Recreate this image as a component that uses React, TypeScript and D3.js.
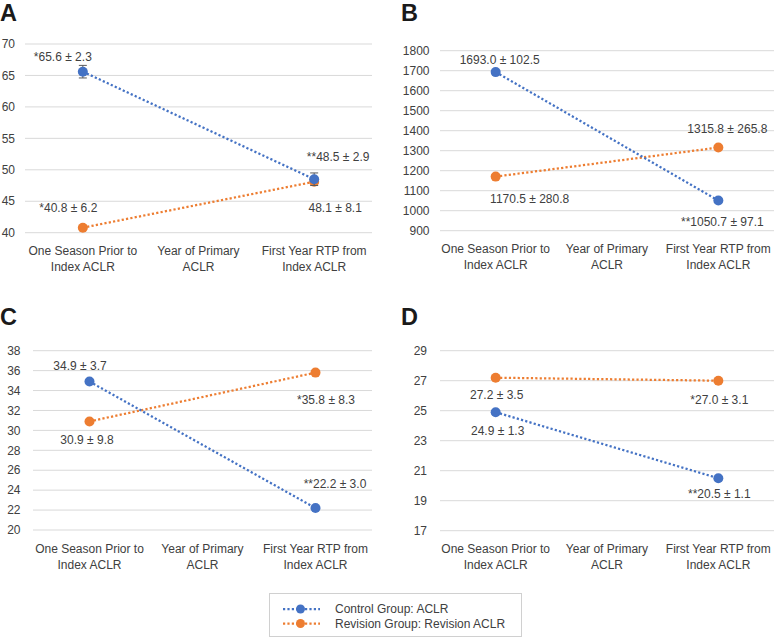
import React from "react";
import * as d3 from "d3";

// ---------- data ----------
const categoryLines: string[][] = [
  ["One Season Prior to", "Index ACLR"],
  ["Year of Primary", "ACLR"],
  ["First Year RTP from", "Index ACLR"],
];

const seriesNames = ["Control Group: ACLR", "Revision Group: Revision ACLR"];

// values per panel [first, middle (none), last]
const controlA = [65.6, null, 48.5];
const revisionA = [40.8, null, 48.1];
const controlB = [1693.0, null, 1050.7];
const revisionB = [1170.5, null, 1315.8];
const controlC = [34.9, null, 22.2];
const revisionC = [30.9, null, 35.8];
const controlD = [24.9, null, 20.5];
const revisionD = [27.2, null, 27.0];

// visible error bars (panel A control only, estimated)
const controlErrA = [1.0, null, 1.0];

const controlLabelsA = ["*65.6 ± 2.3", "", "**48.5 ± 2.9"];
const revisionLabelsA = ["*40.8 ± 6.2", "", "48.1 ± 8.1"];
const controlLabelsB = ["1693.0 ± 102.5", "", "**1050.7 ± 97.1"];
const revisionLabelsB = ["1170.5 ± 280.8", "", "1315.8 ± 265.8"];
const controlLabelsC = ["34.9 ± 3.7", "", "**22.2 ± 3.0"];
const revisionLabelsC = ["30.9 ± 9.8", "", "*35.8 ± 8.3"];
const controlLabelsD = ["24.9 ± 1.3", "", "**20.5 ± 1.1"];
const revisionLabelsD = ["27.2 ± 3.5", "", "*27.0 ± 3.1"];

const ticksA = [40, 45, 50, 55, 60, 65, 70];
const ticksB = [900, 1000, 1100, 1200, 1300, 1400, 1500, 1600, 1700, 1800];
const ticksC = [20, 22, 24, 26, 28, 30, 32, 34, 36, 38];
const ticksD = [17, 19, 21, 23, 25, 27, 29];

// ---------- layout / style ----------
const BLUE = "#4472C4";
const ORANGE = "#ED7D31";
const TEXT = "#404040";
const GRID = "#D9D9D9";
const FONT = "'Liberation Sans', Arial, sans-serif";

type Panel = {
  letter: string;
  letterX: number;
  letterY: number;
  x0: number;
  x1: number;
  yTop: number;
  yBot: number;
  tickX: number;
  catY: number;
  ticks: number[];
  control: (number | null)[];
  revision: (number | null)[];
  controlLabels: string[];
  revisionLabels: string[];
  controlOff: [number, number][];
  revisionOff: [number, number][];
  controlErr?: (number | null)[];
};

const panels: Panel[] = [
  {
    letter: "A", letterX: 0, letterY: 20.5,
    x0: 25, x1: 372, yTop: 44, yBot: 232.7, tickX: 15, catY: 255,
    ticks: ticksA, control: controlA, revision: revisionA,
    controlLabels: controlLabelsA, revisionLabels: revisionLabelsA,
    controlOff: [[-20, -14.7], [0, 0], [24, -22]],
    revisionOff: [[-14.5, -20], [0, 0], [21, 26]],
    controlErr: controlErrA,
  },
  {
    letter: "B", letterX: 401, letterY: 20.5,
    x0: 440, x1: 774, yTop: 50.7, yBot: 230.7, tickX: 429.5, catY: 252.5,
    ticks: ticksB, control: controlB, revision: revisionB,
    controlLabels: controlLabelsB, revisionLabels: revisionLabelsB,
    controlOff: [[4, -12], [0, 0], [4, 21]],
    revisionOff: [[34, 22], [0, 0], [9, -18.5]],
  },
  {
    letter: "C", letterX: 0, letterY: 324.5,
    x0: 33, x1: 372, yTop: 350.7, yBot: 530, tickX: 20.5, catY: 552.5,
    ticks: ticksC, control: controlC, revision: revisionC,
    controlLabels: controlLabelsC, revisionLabels: revisionLabelsC,
    controlOff: [[-9.5, -15.6], [0, 0], [19.5, -24]],
    revisionOff: [[-2.5, 18.6], [0, 0], [10.5, 27.4]],
  },
  {
    letter: "D", letterX: 401, letterY: 324.5,
    x0: 440, x1: 774, yTop: 350.7, yBot: 530.7, tickX: 427, catY: 552.5,
    ticks: ticksD, control: controlD, revision: revisionD,
    controlLabels: controlLabelsD, revisionLabels: revisionLabelsD,
    controlOff: [[2, 19], [0, 0], [1, 16]],
    revisionOff: [[1, 17], [0, 0], [1, 19]],
  },
];

function PanelView({ p }: { p: Panel }) {
  const idx = categoryLines.map((_, i) => String(i));
  const x = d3.scaleBand<string>().domain(idx).range([p.x0, p.x1]);
  const cx = (i: number) => (x(String(i)) as number) + x.bandwidth() / 2;
  const y = d3
    .scaleLinear()
    .domain([p.ticks[0], p.ticks[p.ticks.length - 1]])
    .range([p.yBot, p.yTop]);

  const line = d3
    .line<[number, number | null]>()
    .defined((d) => d[1] !== null)
    .x((d) => cx(d[0]))
    .y((d) => y(d[1] as number));

  const series = [
    { vals: p.revision, color: ORANGE, labels: p.revisionLabels, off: p.revisionOff, err: undefined as any },
    { vals: p.control, color: BLUE, labels: p.controlLabels, off: p.controlOff, err: p.controlErr },
  ];

  return (
    <g>
      <text x={p.letterX} y={p.letterY} fontFamily={FONT} fontWeight="bold" fontSize={23.5} fill="#1a1a1a">
        {p.letter}
      </text>
      {p.ticks.map((t) => (
        <g key={t}>
          <line x1={p.x0} x2={p.x1} y1={y(t)} y2={y(t)} stroke={GRID} strokeWidth={1} />
          <text x={p.tickX} y={y(t)} dy="0.35em" textAnchor="end" fontFamily={FONT} fontSize={12} fill={TEXT}>
            {t}
          </text>
        </g>
      ))}
      {categoryLines.map((lines, i) => (
        <text key={i} x={cx(i)} y={p.catY} textAnchor="middle" fontFamily={FONT} fontSize={12} fill={TEXT}>
          {lines.map((l, j) => (
            <tspan key={j} x={cx(i)} dy={j === 0 ? 0 : 16.3}>
              {l}
            </tspan>
          ))}
        </text>
      ))}
      {series.map((s, si) => {
        const pts = s.vals
          .map((v, i) => [i, v] as [number, number | null])
          .filter((d) => d[1] !== null);
        return (
          <g key={si}>
            <path
              d={line(pts) || ""}
              fill="none"
              stroke={s.color}
              strokeWidth={2.25}
              strokeDasharray="2.2 2.2"
            />
            {s.err &&
              pts.map(([i, v]) => {
                const e = s.err[i];
                if (e == null) return null;
                const c = cx(i);
                return (
                  <g key={"e" + i} stroke="#595959" strokeWidth={1}>
                    <line x1={c} x2={c} y1={y((v as number) - e)} y2={y((v as number) + e)} />
                    <line x1={c - 4} x2={c + 4} y1={y((v as number) - e)} y2={y((v as number) - e)} />
                    <line x1={c - 4} x2={c + 4} y1={y((v as number) + e)} y2={y((v as number) + e)} />
                  </g>
                );
              })}
            {pts.map(([i, v]) => (
              <circle key={i} cx={cx(i)} cy={y(v as number)} r={5} fill={s.color} />
            ))}
            {pts.map(([i, v]) => (
              <text
                key={"l" + i}
                x={cx(i) + s.off[i][0]}
                y={y(v as number) + s.off[i][1]}
                dy="0.35em"
                textAnchor="middle"
                fontFamily={FONT}
                fontSize={12}
                fill={TEXT}
              >
                {s.labels[i]}
              </text>
            ))}
          </g>
        );
      })}
    </g>
  );
}

function Legend() {
  const colors = [BLUE, ORANGE];
  const rows = [609, 623.5];
  return (
    <g>
      <rect x={269.5} y={593.5} width={252} height={43} fill="#fff" stroke="#D0D0D0" strokeWidth={1} />
      {seriesNames.map((name, i) => (
        <g key={name}>
          <line
            x1={283}
            x2={320}
            y1={rows[i]}
            y2={rows[i]}
            stroke={colors[i]}
            strokeWidth={2.25}
            strokeDasharray="2.2 2.2"
          />
          <circle cx={300.5} cy={rows[i]} r={4.5} fill={colors[i]} />
          <text x={335} y={rows[i]} dy="0.35em" fontFamily={FONT} fontSize={12} fill={TEXT}>
            {name}
          </text>
        </g>
      ))}
    </g>
  );
}

export default function App() {
  return (
    <svg
      width={774}
      height={637}
      viewBox="0 0 774 637"
      style={{ position: "absolute", left: 0, top: 0, background: "#fff" }}
    >
      <rect x={0} y={0} width={774} height={637} fill="#fff" />
      {panels.map((p) => (
        <PanelView key={p.letter} p={p} />
      ))}
      <Legend />
    </svg>
  );
}
